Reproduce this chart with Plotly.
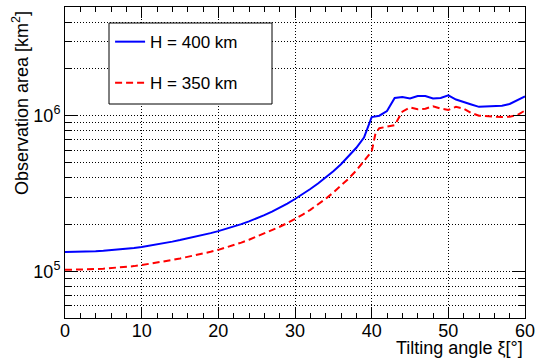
import math
import plotly.graph_objects as go

# ---- data ----
angle_400 = [0, 1, 2, 3, 4, 5, 6, 7, 8, 9, 10, 11, 12, 13, 14, 15, 16, 17, 18, 19, 20,
             21, 22, 23, 24, 25, 26, 27, 28, 29, 30, 31, 32, 33, 34, 35, 36, 37, 38, 39, 39.5,
             40, 41, 42, 43, 44, 45, 46, 47, 48, 49, 50, 51, 52, 53, 54, 55, 56, 57, 58, 59, 60]
area_400 = [1.330e5, 1.332e5, 1.335e5, 1.339e5, 1.345e5, 1.355e5, 1.366e5, 1.378e5, 1.393e5, 1.411e5,
            1.432e5, 1.458e5, 1.486e5, 1.516e5, 1.549e5, 1.585e5, 1.623e5, 1.663e5, 1.707e5, 1.757e5,
            1.810e5, 1.869e5, 1.935e5, 2.008e5, 2.091e5, 2.184e5, 2.292e5, 2.417e5, 2.559e5, 2.724e5,
            2.912e5, 3.128e5, 3.375e5, 3.662e5, 3.997e5, 4.392e5, 4.873e5, 5.468e5, 6.219e5, 7.239e5,
            8.5e5,
            9.8e5, 1.00e6, 1.07e6, 1.30e6, 1.32e6, 1.29e6, 1.34e6, 1.34e6, 1.29e6, 1.30e6,
            1.35e6, 1.27e6, 1.23e6, 1.18e6, 1.14e6, 1.15e6, 1.15e6, 1.16e6, 1.19e6, 1.26e6, 1.33e6]

angle_350 = [0, 1, 2, 3, 4, 5, 6, 7, 8, 9, 10, 11, 12, 13, 14, 15, 16, 17, 18, 19, 20,
             21, 22, 23, 24, 25, 26, 27, 28, 29, 30, 31, 32, 33, 34, 35, 36, 37, 38, 39, 40,
             40.5, 41, 42, 43, 44, 45, 46, 47, 48, 49, 50, 51, 52, 53, 54, 55, 56, 57, 58, 59, 60]
area_350 = [1.020e5, 1.021e5, 1.024e5, 1.027e5, 1.032e5, 1.038e5, 1.045e5, 1.053e5, 1.064e5, 1.078e5,
            1.095e5, 1.113e5, 1.134e5, 1.156e5, 1.181e5, 1.207e5, 1.235e5, 1.265e5, 1.298e5, 1.333e5,
            1.372e5, 1.417e5, 1.468e5, 1.527e5, 1.593e5, 1.668e5, 1.748e5, 1.835e5, 1.931e5, 2.040e5,
            2.167e5, 2.311e5, 2.482e5, 2.684e5, 2.922e5, 3.204e5, 3.538e5, 3.943e5, 4.444e5, 5.079e5,
            5.88e5, 7.7e5, 8.3e5, 8.5e5, 8.7e5, 1.06e6, 1.13e6, 1.10e6, 1.11e6, 1.15e6, 1.11e6,
            1.09e6, 1.14e6, 1.11e6, 1.04e6, 1.00e6, 0.99e6, 0.985e6, 0.98e6, 0.985e6, 1.01e6, 1.08e6]

series_names = ["H = 400 km", "H = 350 km"]

x_ticks = [0, 10, 20, 30, 40, 50, 60]
y_major = [1e5, 1e6]
y_major_text = ["10<sup>5</sup>", "10<sup>6</sup>"]
y_minor = [6e4, 7e4, 8e4, 9e4, 2e5, 3e5, 4e5, 5e5, 6e5, 7e5, 8e5, 9e5, 2e6, 3e6, 4e6]

FONT = "Liberation Sans, Arial, Helvetica, sans-serif"
GRID_DASH = "1px,2px"

fig = go.Figure()
fig.add_trace(go.Scatter(x=angle_400, y=area_400, mode="lines", name=series_names[0],
                         legendgroup="a",
                         line=dict(color="#0000ff", width=2)))
fig.add_trace(go.Scatter(x=angle_350, y=area_350, mode="lines", name=series_names[1],
                         legendgroup="b",
                         line=dict(color="#ff0000", width=2, dash="7px,4px")))

fig.update_layout(
    width=535, height=361,
    margin=dict(l=65, r=10, t=7, b=43, autoexpand=False),
    paper_bgcolor="white", plot_bgcolor="white",
    font=dict(family=FONT, size=18, color="black"),
    showlegend=True,
    legend=dict(x=0.098, y=0.945, xanchor="left", yanchor="top",
                bgcolor="rgba(0,0,0,0)", borderwidth=0,
                font=dict(size=17), tracegroupgap=16, itemwidth=30,
                traceorder="grouped"),
    shapes=[dict(type="rect", xref="paper", yref="paper",
                 x0=(109 - 65) / 460, x1=(272 - 65) / 460,
                 y0=(318 - 104) / 311, y1=(318 - 23) / 311,
                 line=dict(color="black", width=1), fillcolor="white", layer="above")],
    annotations=[
        dict(text="Tilting angle ξ[°]", xref="paper", yref="paper", x=1.0, y=-0.058,
             xanchor="right", yanchor="top", showarrow=False, font=dict(size=18)),
        dict(text="Observation area [km<sup>2</sup>]", xref="paper", yref="paper",
             x=(20 - 65) / 460, y=(318 - 9) / 311, xanchor="center", yanchor="top",
             textangle=-90, showarrow=False, font=dict(size=18)),
    ],
)

fig.update_xaxes(
    range=[0, 60], tickmode="array", tickvals=x_ticks, automargin=False,
    ticks="inside", ticklen=11, tickwidth=1, tickcolor="black",
    ticklabeloverflow="allow", ticklabelstandoff=-4,
    showline=True, linecolor="black", linewidth=1, mirror="allticks",
    showgrid=True, gridcolor="black", griddash=GRID_DASH, gridwidth=1,
    zeroline=False,
    minor=dict(dtick=2, tick0=0, ticks="inside", ticklen=5, tickcolor="black", tickwidth=1,
               showgrid=False),
)

fig.update_yaxes(
    type="log", range=[math.log10(5e4), math.log10(5e6)], automargin=False,
    tickmode="array", tickvals=y_major, ticktext=y_major_text,
    ticks="inside", ticklen=12, tickwidth=1, tickcolor="black",
    showline=True, linecolor="black", linewidth=1, mirror="allticks",
    showgrid=True, gridcolor="black", griddash=GRID_DASH, gridwidth=1,
    zeroline=False,
    minor=dict(tickmode="array", tickvals=y_minor, ticks="inside", ticklen=6,
               tickcolor="black", tickwidth=1,
               showgrid=True, gridcolor="black", griddash=GRID_DASH, gridwidth=1),
)

fig.write_html("out.html",
               config={"displayModeBar": False},
               post_script="document.body.style.margin='0';document.body.style.padding='0';")
